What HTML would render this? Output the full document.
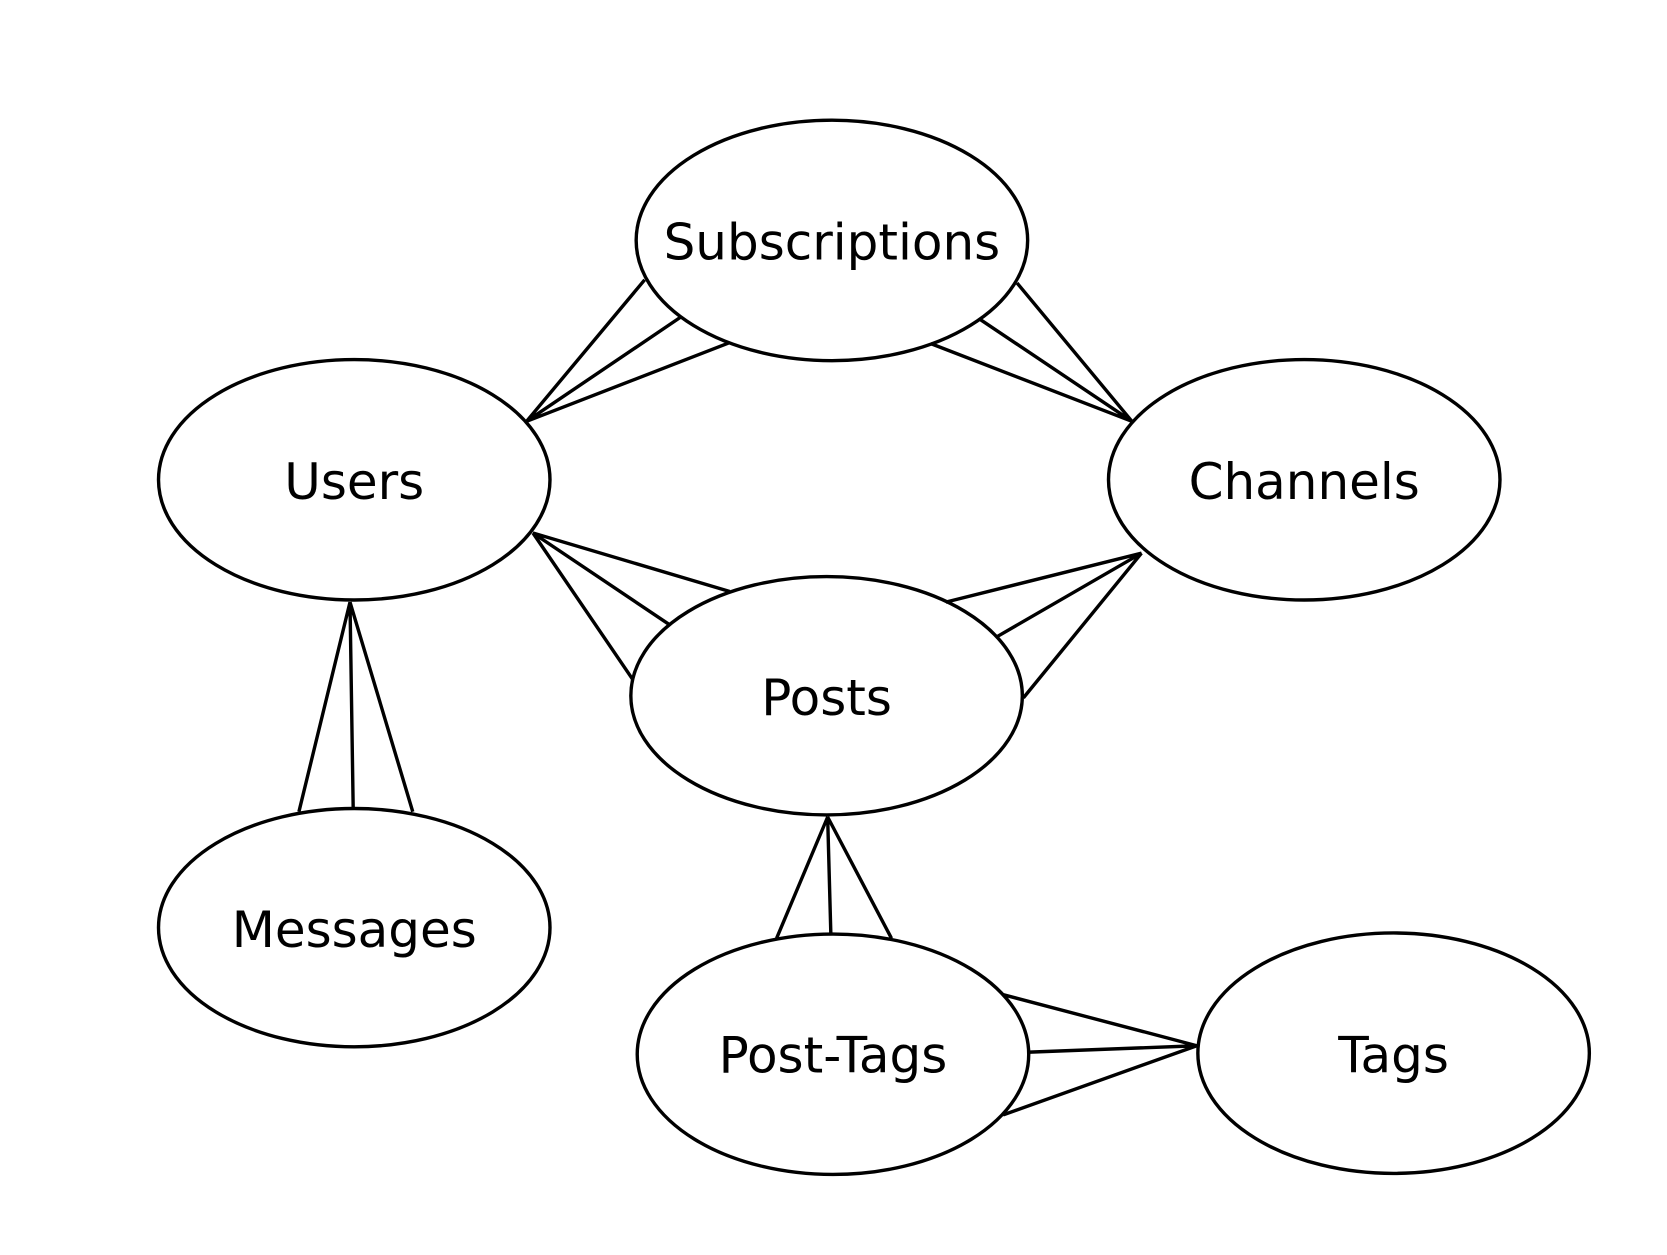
<!DOCTYPE html>
<html><head><style>html,body{margin:0;padding:0;background:#fff}</style></head><body>
<svg width="1667" height="1250" viewBox="0 0 1567 1175" xmlns="http://www.w3.org/2000/svg">
<g fill="#fff" stroke="#000" stroke-width="3.2">
<ellipse cx="782" cy="226" rx="184" ry="113"/>
<ellipse cx="333" cy="451" rx="184" ry="113"/>
<ellipse cx="1226" cy="451" rx="184" ry="113"/>
<ellipse cx="777" cy="654" rx="184" ry="112"/>
<ellipse cx="333" cy="872" rx="184" ry="112"/>
<ellipse cx="783" cy="991" rx="184" ry="113"/>
<ellipse cx="1310" cy="990" rx="184" ry="113"/>
</g>
<g stroke="#000" stroke-width="3.2" fill="none">
<path d="M606 263L495 396L640 298M495 396L686 322"/>
<path d="M956 266L1064 396L921 300M1064 396L875 323"/>
<path d="M686 556L501 501L629 587M501 501L595 639"/>
<path d="M889 566L1073 520L938 598M1073 520L962 656"/>
<path d="M281 763L329 566L332 760M329 566L388 763"/>
<path d="M730 882L778 768L781 878M778 768L838 882"/>
<path d="M943 935L1125 983L968 989M1125 983L943 1048"/>
</g>
<g font-family="DejaVu Sans, Liberation Sans, sans-serif" font-size="47" text-anchor="middle" fill="#000">
<text x="782" y="244">Subscriptions</text>
<text x="333" y="469">Users</text>
<text x="1226" y="469">Channels</text>
<text x="777" y="672">Posts</text>
<text x="333" y="890">Messages</text>
<text x="783" y="1008">Post-Tags</text>
<text x="1310" y="1008">Tags</text>
</g>
</svg>
</body></html>
